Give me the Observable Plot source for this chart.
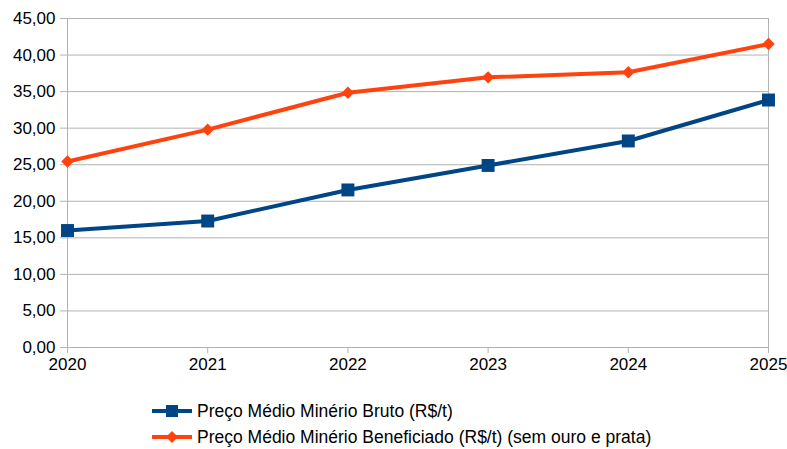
<!DOCTYPE html>
<html><head><meta charset="utf-8">
<script src="https://cdn.jsdelivr.net/npm/d3@7"></script>
<script src="https://cdn.jsdelivr.net/npm/@observablehq/plot@0.6"></script>
<style>
body{margin:0;background:#fff;font-family:"Liberation Sans",Arial,sans-serif;}
#legend{position:absolute;left:152px;top:398px;font-size:17.5px;color:#000;}
.item{display:flex;align-items:center;height:26px;}
.item svg{margin-right:5px;}
</style></head>
<body><div id="chart"></div><div id="legend"></div>
<script>
const years = [2020, 2021, 2022, 2023, 2024, 2025];
const bruto = [16.0, 17.3, 21.55, 24.9, 28.25, 33.85];
const beneficiado = [25.45, 29.8, 34.85, 36.95, 37.65, 41.5];
const seriesNames = ["Preço Médio Minério Bruto (R$/t)", "Preço Médio Minério Beneficiado (R$/t) (sem ouro e prata)"];
const colors = ["#004586", "#ff420e"];
const yTicks = [0,5,10,15,20,25,30,35,40,45];

const data = [];
years.forEach((y,i)=>{
  data.push({year:y, value:bruto[i], s:seriesNames[0]});
  data.push({year:y, value:beneficiado[i], s:seriesNames[1]});
});
const fmt = d => d.toFixed(2).replace(".", ",");

const chart = Plot.plot({
  width: 787, height: 375,
  marginLeft: 67, marginRight: 19, marginTop: 18, marginBottom: 28,
  style:{fontFamily:"'Liberation Sans', Arial, sans-serif", fontSize:"17px", color:"#000", background:"#fff"},
  x:{domain:[2020,2025], label:null},
  y:{domain:[0,45], label:null},
  color:{domain:seriesNames, range:colors},
  marks:[
    Plot.gridY(yTicks, {stroke:"#b3b3b3", strokeOpacity:1, strokeWidth:1}),
    Plot.ruleX([2020, 2025], {stroke:"#b3b3b3", strokeWidth:1}),
    Plot.axisY({ticks:yTicks, tickFormat:fmt, stroke:"#b3b3b3", tickSize:7, tickPadding:5, fontSize:17}),
    Plot.axisX({ticks:years, tickFormat:d=>String(d), stroke:"#b3b3b3", tickSize:6, tickPadding:4, fontSize:17}),
    Plot.line(data, {x:"year", y:"value", stroke:"s", strokeWidth:4, z:"s"}),
    Plot.dot(data.filter(d=>d.s===seriesNames[0]), {x:"year", y:"value", fill:colors[0], symbol:"square", r:7.3}),
    Plot.dot(data.filter(d=>d.s===seriesNames[1]), {x:"year", y:"value", fill:colors[1], symbol:"diamond2", r:5.6})
  ]
});
document.getElementById("chart").appendChild(chart);

const leg = document.getElementById("legend");
seriesNames.forEach((n,i)=>{
  const div = document.createElement("div"); div.className="item";
  const marker = i===0
    ? `<rect x="14" y="1" width="12" height="12" fill="${colors[i]}"/>`
    : `<path d="M20 1 L26 7 L20 13 L14 7 Z" fill="${colors[i]}"/>`;
  div.innerHTML = `<svg width="40" height="14"><line x1="0" x2="40" y1="7" y2="7" stroke="${colors[i]}" stroke-width="4"/>${marker}</svg><span>${n}</span>`;
  leg.appendChild(div);
});
</script></body></html>
